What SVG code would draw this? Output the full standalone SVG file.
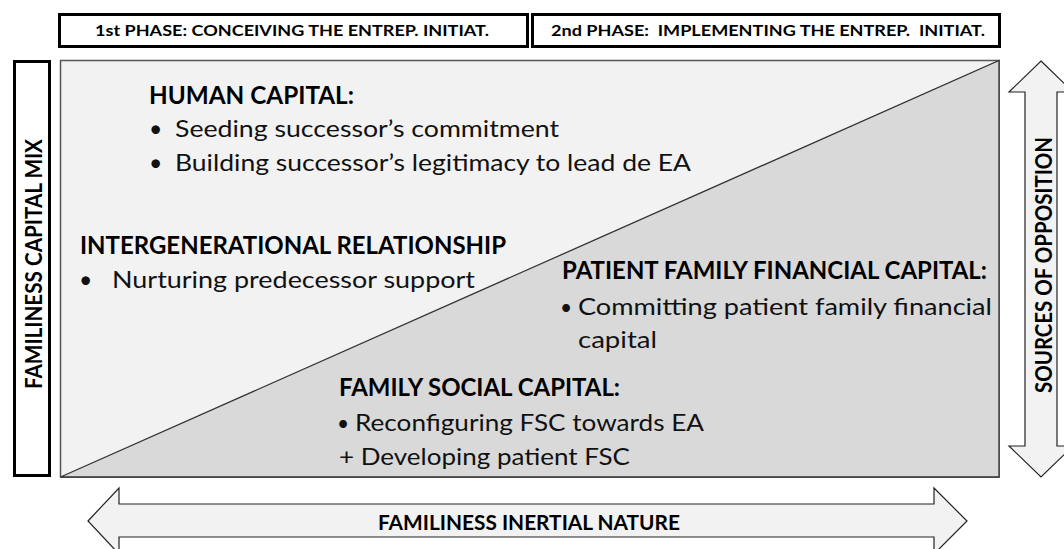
<svg xmlns="http://www.w3.org/2000/svg" width="1064" height="549" viewBox="0 0 1064 549">
<style>
.hdr{font-family:Lato,"Open Sans","Liberation Sans",sans-serif;font-weight:bold;fill:#000}
.body{font-family:Lato,"Open Sans","Liberation Sans",sans-serif;fill:#111}
.box{fill:#fff;stroke:#000;stroke-width:3}
.arrow{fill:#f2f2f2;stroke:#222;stroke-width:1.2;stroke-linejoin:miter}
</style>
<rect width="1064" height="549" fill="#fff"/>
<g id="phase1">
<rect class="box" x="59.5" y="14.5" width="468" height="32"/>
<text class="hdr" x="292" y="35.5" font-size="15.5" text-anchor="middle" textLength="394" lengthAdjust="spacingAndGlyphs">1st PHASE: CONCEIVING THE ENTREP. INITIAT.</text>
</g>
<g id="phase2">
<rect class="box" x="532.5" y="14.5" width="467" height="32"/>
<text class="hdr" x="768" y="35.5" font-size="15.5" text-anchor="middle" textLength="434" lengthAdjust="spacingAndGlyphs" xml:space="preserve">2nd PHASE:  IMPLEMENTING THE ENTREP.  INITIAT.</text>
</g>
<g id="capital-mix">
<rect class="box" x="14.5" y="61.5" width="35" height="414"/>
<text class="hdr" transform="translate(41.5 264) rotate(-90)" font-size="23" text-anchor="middle" textLength="250" lengthAdjust="spacingAndGlyphs">FAMILINESS CAPITAL MIX</text>
</g>
<g id="panel">
<rect x="60.5" y="60.5" width="938.5" height="416.5" fill="#f2f2f2" stroke="#555" stroke-width="1.5"/>
<polygon points="60.5,477 999,60.5 999,477" fill="#d9d9d9" stroke="#333" stroke-width="1.3"/>
</g>
<g id="human-capital">
<text class="hdr" x="149" y="104" font-size="24" textLength="205" lengthAdjust="spacingAndGlyphs">HUMAN CAPITAL:</text>
<text class="body" x="149" y="137" font-size="23">•</text>
<text class="body" x="175" y="137" font-size="23" textLength="384" lengthAdjust="spacingAndGlyphs">Seeding successor’s commitment</text>
<text class="body" x="149" y="171" font-size="23">•</text>
<text class="body" x="175" y="171" font-size="23" textLength="516" lengthAdjust="spacingAndGlyphs">Building successor’s legitimacy to lead de EA</text>
</g>
<g id="intergenerational">
<text class="hdr" x="80" y="254" font-size="24" textLength="426" lengthAdjust="spacingAndGlyphs">INTERGENERATIONAL RELATIONSHIP</text>
<text class="body" x="79" y="288" font-size="23">•</text>
<text class="body" x="112" y="288" font-size="23" textLength="363" lengthAdjust="spacingAndGlyphs">Nurturing predecessor support</text>
</g>
<g id="financial-capital">
<text class="hdr" x="562" y="279" font-size="24" textLength="425" lengthAdjust="spacingAndGlyphs">PATIENT FAMILY FINANCIAL CAPITAL:</text>
<text class="body" x="560" y="315" font-size="21">•</text>
<text class="body" x="578" y="315" font-size="23" textLength="414" lengthAdjust="spacingAndGlyphs">Committing patient family financial</text>
<text class="body" x="578" y="348" font-size="23" textLength="79" lengthAdjust="spacingAndGlyphs">capital</text>
</g>
<g id="social-capital">
<text class="hdr" x="339" y="396" font-size="24" textLength="281" lengthAdjust="spacingAndGlyphs">FAMILY SOCIAL CAPITAL:</text>
<text class="body" x="337" y="431" font-size="21">•</text>
<text class="body" x="355" y="431" font-size="23" textLength="349" lengthAdjust="spacingAndGlyphs">Reconfiguring FSC towards EA</text>
<text class="body" x="339" y="465" font-size="23" textLength="291" lengthAdjust="spacingAndGlyphs">+ Developing patient FSC</text>
</g>
<g id="connectors">
<g id="opposition-arrow">
<polygon class="arrow" points="1041,61 1073,92 1057,92 1057,446 1073,446 1041,477 1009,446 1025,446 1025,92 1009,92"/>
<text class="hdr" transform="translate(1052 265) rotate(-90)" font-size="23" text-anchor="middle" textLength="256" lengthAdjust="spacingAndGlyphs">SOURCES OF OPPOSITION</text>
</g>
<g id="inertial-arrow">
<polygon class="arrow" points="88,521 119,488 119,504 934,504 934,488 967,521 934,554 934,537 119,537 119,554"/>
<text class="hdr" x="529" y="530" font-size="20" text-anchor="middle" textLength="302" lengthAdjust="spacingAndGlyphs">FAMILINESS INERTIAL NATURE</text>
</g>
</g>
</svg>
